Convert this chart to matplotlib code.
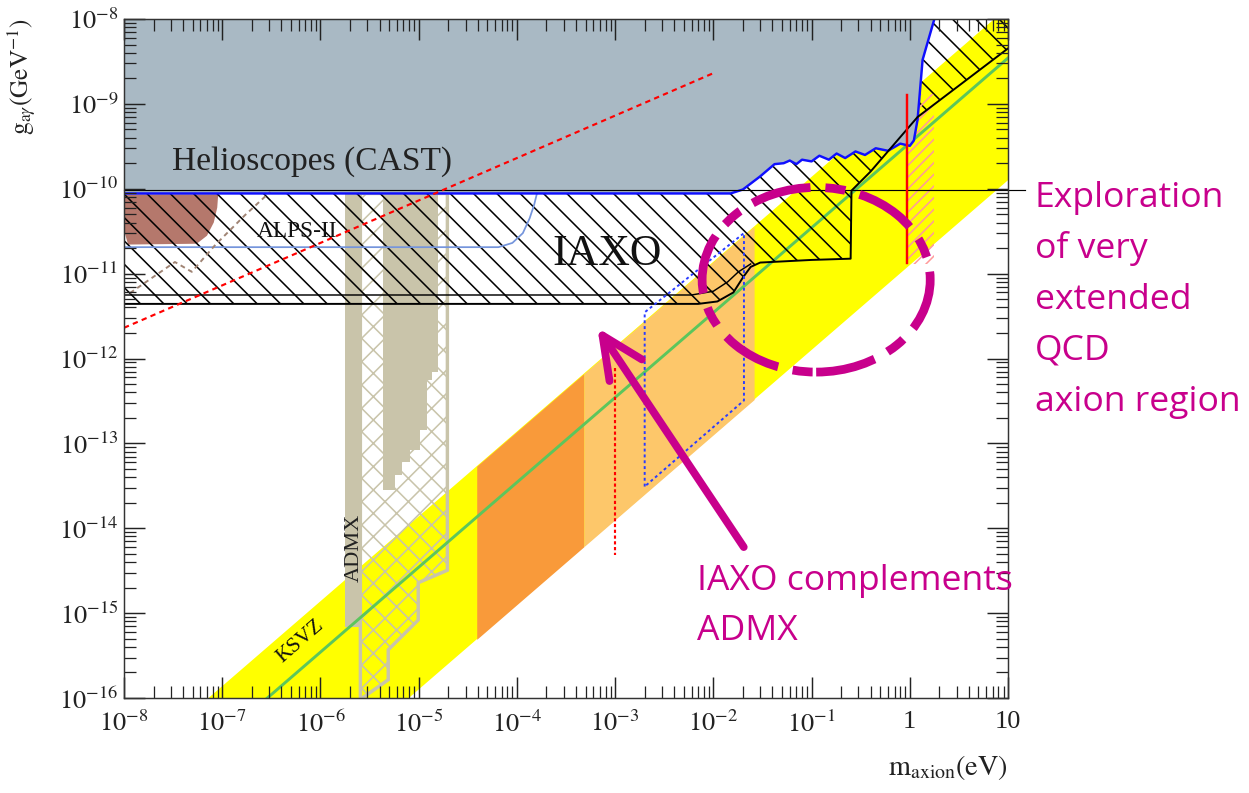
import numpy as np
import matplotlib
matplotlib.use('Agg')
import matplotlib.pyplot as plt
from matplotlib.patches import Ellipse
from matplotlib.ticker import NullFormatter, LogLocator

plt.rcParams['font.family'] = 'serif'
plt.rcParams['font.serif'] = ['Liberation Serif', 'DejaVu Serif']
plt.rcParams['mathtext.fontset'] = 'stix'
plt.rcParams['hatch.linewidth'] = 1.6
for a in ('xtick', 'ytick'):
    plt.rcParams[a + '.direction'] = 'in'
    plt.rcParams[a + '.major.size'] = 22
    plt.rcParams[a + '.minor.size'] = 12
    plt.rcParams[a + '.major.width'] = 1.5
    plt.rcParams[a + '.minor.width'] = 1.3
    plt.rcParams[a + '.color'] = '#222'
    plt.rcParams[a + '.labelsize'] = 27
plt.rcParams['xtick.top'] = True
plt.rcParams['ytick.right'] = True
plt.rcParams['xtick.minor.visible'] = True
plt.rcParams['ytick.minor.visible'] = True

# axes ticks
xtick_vals = [1e-8, 1e-7, 1e-6, 1e-5, 1e-4, 1e-3, 1e-2, 1e-1, 1, 10]
xtick_labels = [r'$10^{-8}$', r'$10^{-7}$', r'$10^{-6}$', r'$10^{-5}$', r'$10^{-4}$',
                r'$10^{-3}$', r'$10^{-2}$', r'$10^{-1}$', '1', '10']
ytick_vals = [1e-16, 1e-15, 1e-14, 1e-13, 1e-12, 1e-11, 1e-10, 1e-9, 1e-8]
ytick_labels = [r'$10^{-16}$', r'$10^{-15}$', r'$10^{-14}$', r'$10^{-13}$', r'$10^{-12}$',
                r'$10^{-11}$', r'$10^{-10}$', r'$10^{-9}$', r'$10^{-8}$']

# QCD axion band and KSVZ line (m in eV, g in GeV^-1)
band_m = [1e-8, 10]
band_hi = [1.38e-17, 1.38e-8]
band_lo = [1.26e-19, 1.26e-10]
ksvz_m = [1e-8, 10]
ksvz_g = [3.47e-18, 3.47e-9]

# orange (haloscope-favoured) regions
dark_m = [3.9e-5, 4.8e-4]
dark_hi = [5.38e-14, 6.62e-13]
dark_lo = [4.91e-16, 6.05e-15]
light_m = [4.8e-4, 2.6e-2]
light_hi = [6.62e-13, 3.59e-11]
light_lo = [6.05e-15, 3.28e-13]

# CAST limit
cast_m = [1e-8, 0.015, 0.02, 0.03, 0.042, 0.052, 0.06, 0.07, 0.08, 0.1, 0.12, 0.15, 0.18,
          0.22, 0.28, 0.35, 0.45, 0.6, 0.8, 1.0, 1.1, 1.2, 1.35, 1.78, 10]
cast_g = [8.8e-11, 8.8e-11, 9.8e-11, 1.4e-10, 1.95e-10, 2.0e-10, 2.15e-10, 1.95e-10, 2.2e-10,
          2.1e-10, 2.45e-10, 2.2e-10, 2.6e-10, 2.3e-10, 2.75e-10, 2.5e-10, 3.0e-10, 2.8e-10,
          3.4e-10, 3.2e-10, 3.7e-10, 6.5e-10, 3.3e-9, 1e-8, 1e-8]
hline_m = [1e-8, 15]
hline_g = [9.7e-11, 9.7e-11]

# IAXO sensitivity
iaxo_m = [1e-8, 0.007, 0.011, 0.016, 0.02, 0.024, 0.03, 0.1, 0.25, 0.255, 0.4, 1.2, 10]
iaxo_g = [4.4e-12, 4.4e-12, 4.7e-12, 6e-12, 9e-12, 1.2e-11, 1.35e-11, 1.45e-11, 1.5e-11,
          9.5e-11, 1.6e-10, 7e-10, 4.5e-9]
iaxo0_m = [1e-8, 0.006, 0.01, 0.014, 0.018, 0.024]
iaxo0_g = [5.6e-12, 5.6e-12, 6.2e-12, 8e-12, 1.05e-11, 1.3e-11]

# ALPS-II
alps_m = [1e-8, 6.5e-5, 9e-5, 1.15e-4, 1.35e-4, 1.5e-4, 1.6e-4]
alps_g = [2.05e-11, 2.05e-11, 2.3e-11, 3e-11, 4.5e-11, 6.5e-11, 8.8e-11]
blob_m = [1e-8, 9.1e-8, 8.9e-8, 8.2e-8, 7e-8, 5.5e-8, 1.1e-8, 1.02e-8]
blob_g = [8.6e-11, 8.6e-11, 6e-11, 4e-11, 2.8e-11, 2.25e-11, 2.2e-11, 3e-11]
brown_m = [1.15e-8, 3.3e-8, 4.9e-8, 8.5e-8, 1.71e-7, 3.08e-7]
brown_g = [5.9e-12, 1.37e-11, 1.05e-11, 2.18e-11, 4.9e-11, 9.2e-11]

# other limits
reddash_m = [1e-8, 1e-2]
reddash_g = [2.3e-12, 2.3e-9]
reddot_m = [1e-3, 1e-3]
reddot_g = [7.8e-13, 4.9e-15]
redline_m = [0.93, 0.93]
redline_g = [1.26e-9, 1.35e-11]
redhatch_m = [0.95, 1.75]
redhatch_g = [1.3e-11, 1.3e-9]
bluedot_m = [2e-3, 2e-3, 0.0205, 0.0205, 2e-3]
bluedot_g = [3.1e-14, 3.5e-12, 3.0e-11, 3.2e-13, 3.1e-14]

# ADMX
admx_m = [1.79e-6, 2.55e-6]
admx_top, admx_bot = 8.8e-11, 6.9e-16
admxx_m = [2.55e-6, 1.96e-5, 1.96e-5, 9.9e-6, 9.9e-6, 4.9e-6, 4.9e-6, 2.67e-6, 2.55e-6]
admxx_g = [8.8e-11, 8.8e-11, 3.2e-15, 2.28e-15, 8.3e-16, 3.7e-16, 1.64e-16, 1e-16, 1e-16]
admxhf_m = [4.36e-6, 5.78e-6, 6.82e-6, 8.22e-6, 1.04e-5, 1.23e-5, 1.38e-5, 1.59e-5]
admxhf_g = [2.83e-14, 4.25e-14, 6.05e-14, 8.38e-14, 1.44e-13, 5.6e-13, 6.95e-13, 6.95e-13]

right_lines = ['Exploration', 'of very', 'extended', 'QCD', 'axion region']
bottom_lines = ['IAXO complements', 'ADMX']

W, H, DPI = 1249, 793, 70
fig = plt.figure(figsize=(W / DPI, H / DPI), dpi=DPI)
ax = fig.add_axes([124 / W, 1 - 698 / H, 884 / W, 679 / H])
ax.set_xscale('log')
ax.set_yscale('log')
ax.set_xlim(1e-8, 10)
ax.set_ylim(1e-16, 1e-8)

yellow = '#ffff00'
tan = '#c9c4aa'
mag = '#c8008c'

ax.fill_between(band_m, band_lo, band_hi, color=yellow, lw=0, zorder=1)
ax.fill_between(dark_m, dark_lo, dark_hi, color='#f99a3a', lw=0, zorder=2)
ax.fill_between(light_m, light_lo, light_hi, color='#fdc76a', lw=0, zorder=2)

# ADMX
ax.fill_between(admx_m, admx_bot, admx_top, color=tan, lw=0, zorder=3)
ax.fill_between(admxhf_m, admxhf_g, admx_top, step='post', color=tan, lw=0, zorder=3)
ax.fill(admxx_m, admxx_g, facecolor='none', edgecolor=tan, hatch='x', lw=3.5, zorder=3)

ax.plot(ksvz_m, ksvz_g, color='#5cc65c', lw=3, zorder=4)

# ALPS blob under hatch
ax.fill(blob_m, blob_g, color='#b5786c', lw=0, zorder=3)

# IAXO hatched region
ax.fill_between(iaxo_m, iaxo_g, 1e-8, facecolor='none', edgecolor='black', hatch='\\',
                lw=0, zorder=5)
ax.fill_between(redhatch_m, redhatch_g[0], redhatch_g[1], facecolor='none',
                edgecolor='#ff9a9a', hatch='//', lw=0, zorder=5)

# CAST excluded
ax.fill_between(cast_m, cast_g, 1e-8, color='#a9b9c4', lw=0, zorder=6)
ax.plot(cast_m[:-1], cast_g[:-1], color='#0f0fff', lw=2.5, zorder=8)
ax.plot(hline_m, hline_g, color='black', lw=1.2, zorder=8, clip_on=False)

ax.plot(iaxo_m, iaxo_g, color='black', lw=2, zorder=8)
ax.plot(iaxo0_m, iaxo0_g, color='black', lw=1.5, zorder=8)
ax.plot(alps_m, alps_g, color='#7595dc', lw=1.8, zorder=7)
ax.plot(brown_m, brown_g, color='#a08474', lw=2, ls=(0, (2.5, 2)), zorder=7)
ax.plot(reddash_m, reddash_g, color='red', lw=2.2, ls=(0, (2.5, 2)), zorder=9)
ax.plot(reddot_m, reddot_g, color='red', lw=2.2, ls=(0, (1.5, 1.2)), zorder=9)
ax.plot(redline_m, redline_g, color='red', lw=2.5, zorder=9)
ax.plot(bluedot_m, bluedot_g, color='#2a3cff', lw=2, ls=(0, (1.5, 1.5)), zorder=9)

# in-plot labels
ax.text(3.1e-8, 1.66e-10, 'Helioscopes (CAST)', fontsize=34.5, color='#222', va='baseline', zorder=10)
ax.text(2.3e-4, 1.26e-11, 'IAXO', fontsize=45, color='#111', va='baseline', zorder=10)
ax.text(2.27e-7, 2.7e-11, 'ALPS-II', fontsize=24, color='#111', va='baseline', zorder=10)
ax.text(6.3e-7, 4.6e-16, 'KSVZ', fontsize=22, color='#111', rotation=41,
        rotation_mode='anchor', ha='center', va='center', zorder=10)
ax.text(2.2e-6, 5.9e-15, 'ADMX', fontsize=23, color='#222', rotation=90,
        ha='center', va='center', zorder=10)

# axes styling
ax.xaxis.set_major_locator(LogLocator(base=10, numticks=20))
ax.yaxis.set_major_locator(LogLocator(base=10, numticks=20))
ax.xaxis.set_minor_locator(LogLocator(base=10, subs=np.arange(2, 10), numticks=20))
ax.yaxis.set_minor_locator(LogLocator(base=10, subs=np.arange(2, 10), numticks=20))
ax.set_xticks(xtick_vals)
ax.set_xticklabels(xtick_labels)
ax.set_yticks(ytick_vals)
ax.set_yticklabels(ytick_labels)
ax.xaxis.set_minor_formatter(NullFormatter())
ax.yaxis.set_minor_formatter(NullFormatter())
ax.tick_params(axis='x', pad=13)
ax.tick_params(axis='y', pad=6)
ax.set_axisbelow(False)
ax.xaxis.set_zorder(15)
ax.yaxis.set_zorder(15)
for s in ax.spines.values():
    s.set_color('#333')
    s.set_linewidth(1.5)
    s.set_zorder(16)

fig.text(1008 / W, 1 - 775 / H, r'$\mathrm{m}_{\mathrm{axion}}(\mathrm{eV})$',
         fontsize=29, ha='right', va='baseline', color='#222')
fig.text(22 / W, 1 - 77 / H, r'$\mathrm{g}_{\mathrm{a}\gamma}(\mathrm{GeV}^{-1})$',
         fontsize=26, rotation=90, ha='center', va='center', color='#222')

# magenta annotations
ell = Ellipse((0.783, 0.616), 0.258, 0.272, transform=ax.transAxes, fill=False,
              ec=mag, lw=9, ls=(0, (6.9, 1.7, 2.3, 1.7)), clip_on=False, zorder=20)
ax.add_patch(ell)
ax.annotate('', xy=(6.6e-4, 2.3e-12), xytext=(0.0204, 6.0e-15),
            arrowprops=dict(arrowstyle='->,head_length=0.86,head_width=0.4',
                            mutation_scale=50, color=mag, lw=8, shrinkA=0, shrinkB=0,
                            capstyle='round', joinstyle='round'),
            zorder=20)

for i, line in enumerate(right_lines):
    fig.text(1035 / W, 1 - (207 + 51 * i) / H, line, fontsize=36.5, family='Open Sans',
             color=mag, ha='left', va='baseline')
for i, line in enumerate(bottom_lines):
    fig.text(697 / W, 1 - (590 + 50 * i) / H, line, fontsize=36.5, family='Open Sans',
             color=mag, ha='left', va='baseline')

fig.savefig('out.png', dpi=DPI)
